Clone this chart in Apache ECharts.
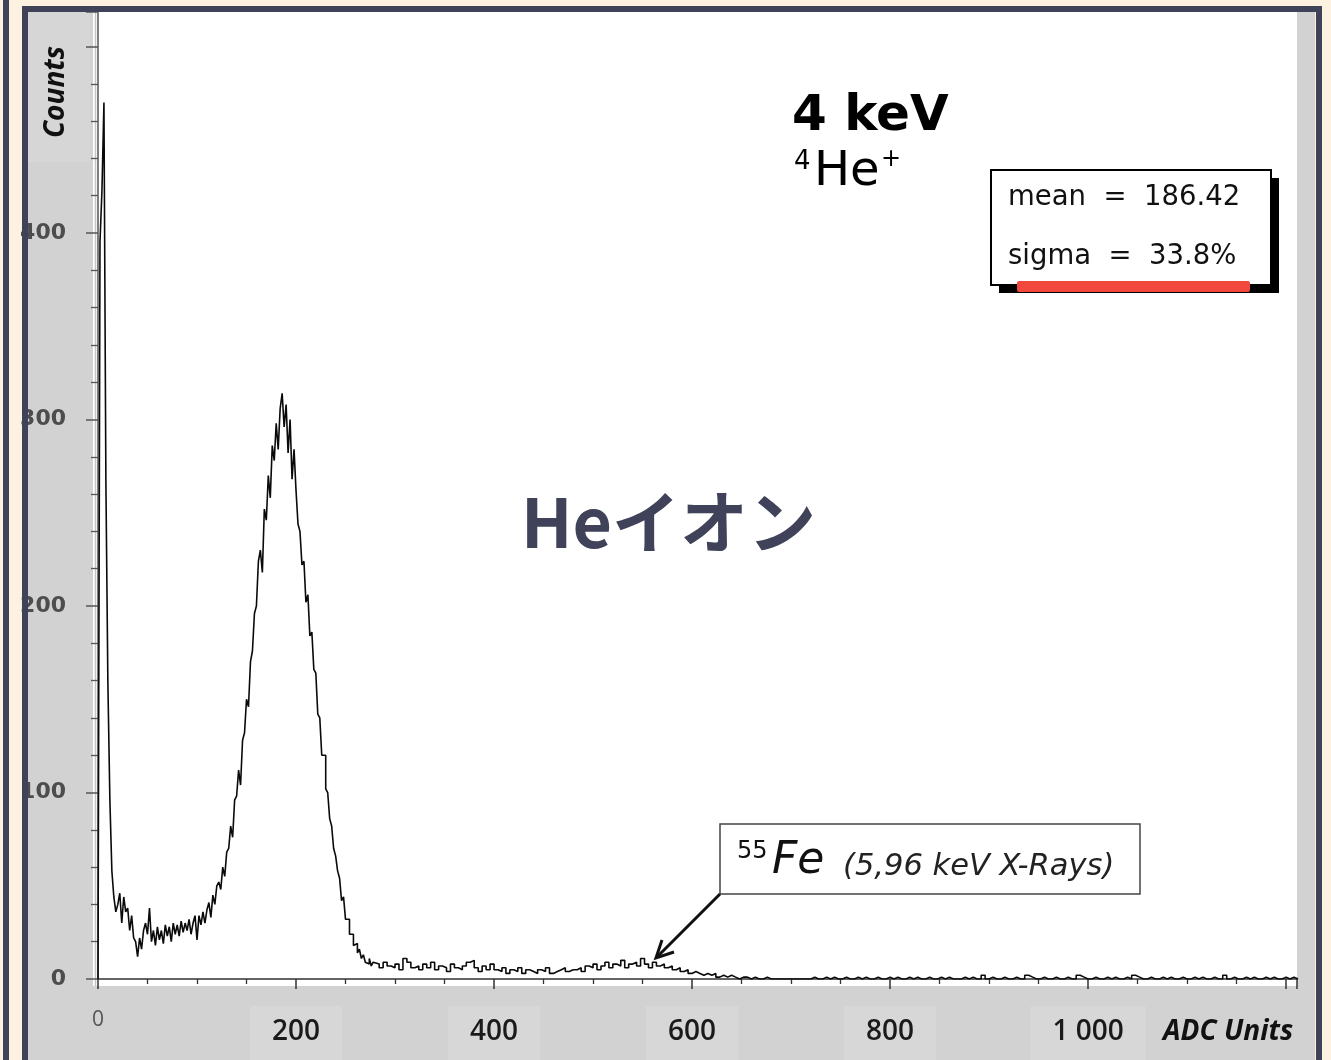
<!DOCTYPE html>
<html>
<head>
<meta charset="utf-8">
<script src="https://cdn.jsdelivr.net/npm/echarts@6/dist/echarts.min.js"></script>
<style>
  html, body { margin: 0; padding: 0; background: #fdf2e2; }
  #chart { width: 1331px; height: 1060px; }
</style>
</head>
<body>
<div id="chart"></div>
<script>
// ADC spectrum, 2-unit bins from ADC 0 to 280
const fineStart = 0;
const fineWidth = 2;
const fineCounts = [
  0, 395, 423, 470, 265, 158, 96, 58, 44, 36,
  40, 46, 30, 44, 36, 38, 26, 34, 22, 20,
  12, 22, 16, 26, 30, 24, 38, 20, 26, 18,
  28, 21, 26, 19, 29, 23, 28, 20, 30, 24,
  29, 23, 31, 25, 30, 26, 32, 24, 30, 34,
  21, 34, 29, 36, 30, 37, 41, 33, 45, 40,
  50, 52, 48, 60, 55, 68, 70, 82, 76, 96,
  98, 112, 104, 128, 132, 150, 146, 170, 176, 196,
  200, 224, 230, 218, 252, 246, 270, 258, 286, 278,
  298, 284, 306, 314, 296, 308, 282, 300, 268, 284,
  262, 244, 240, 222, 224, 202, 206, 184, 186, 166,
  164, 142, 140, 120, 120, 102, 100, 86, 82, 70,
  66, 58, 54, 42, 44, 32, 32, 24, 24, 18,
  19, 14, 16, 11, 13, 9, 8, 11, 7, 9
];

// Tail of the spectrum, 4-unit bins from ADC 280 to 1212
const coarseStart = 280;
const coarseWidth = 4;
const coarseCounts = [
  8, 6, 9, 7, 6, 8, 5, 11, 9, 6, 7, 5, 8, 6, 9, 5, 7, 6, 4, 8, 6, 5, 7, 9, 10, 6, 4, 7, 5, 8,
  5, 4, 6, 3, 5, 4, 6, 3, 5, 4, 3, 5, 4, 6, 3, 4, 5, 6, 4, 5,
  5, 6, 4, 7, 6, 8, 5, 7, 9, 6, 8, 7, 10, 6, 8, 9, 7, 11, 8, 6, 9, 7, 8, 6, 7, 5, 6, 4, 5, 3,
  4, 3, 2, 3, 2, 3, 1, 2, 1, 2, 1, 0, 1, 1, 0,
  1, 0, 0, 1, 0, 0, 0, 0, 0, 0, 0, 0, 0, 0, 0,
  1, 0, 0, 1, 0, 1, 0, 0, 1, 0, 0, 1, 0, 1, 0, 0, 1, 0, 0, 1,
  0, 1, 0, 0, 1, 0, 1, 0, 0, 1, 0, 0, 1, 0, 1, 0, 0, 0, 1, 0,
  1, 0, 0, 2, 0, 1, 0, 0, 1, 0, 0, 1, 0, 0, 2, 1, 0, 0, 1, 0,
  0, 1, 0, 0, 1, 0, 0, 2, 1, 0, 0, 1, 0, 0, 1, 0, 1, 0, 0, 1,
  0, 2, 1, 0, 0, 1, 0, 0, 1, 0, 1, 0, 0, 1, 0, 0, 1, 0, 1, 0,
  0, 1, 0, 0, 2, 0, 1, 0, 0, 1, 0, 1, 0, 0, 1, 0, 1, 0, 0, 1, 0, 1, 0
];

// Axis settings
const xMax = 1211;
const xStep = 200;
const yMax = 518.5;
const yStep = 100;
const xLabelValues = [0, 200, 400, 600, 800, 1000];
const yLabelValues = [0, 100, 200, 300, 400];

// Annotation texts
const energyTitle = '4 keV';
const ionMass = '4';
const ionName = 'He';
const ionCharge = '+';
const statLines = ['mean  =  186.42', 'sigma  =  33.8%'];
const ionLabel = 'Heイオン';
const feMass = '55';
const feName = 'Fe';
const feNote = '(5,96 keV X-Rays)';
const yName = 'Counts';
const xName = 'ADC Units';

// Histogram as step-line points at bin left edges
const points = [];
fineCounts.forEach((c, i) => points.push([fineStart + i * fineWidth, c]));
coarseCounts.forEach((c, i) => points.push([coarseStart + i * coarseWidth, c]));
points.push([coarseStart + coarseCounts.length * coarseWidth, 0]);

function fmtThousands(v) {
  return String(v).replace(/\B(?=(\d{3})+(?!\d))/g, ' ');
}

const chart = echarts.init(document.getElementById('chart'), null, { renderer: 'canvas' });

const NAVY = '#3f4259';

function txt(x, y, text, font, fill, z, align, extra) {
  const a = align || 'left';
  return Object.assign({
    type: 'text', z: z || 50, x: x, y: y,
    style: {
      text: text, font: font, fill: fill,
      align: a, verticalAlign: 'middle', textAlign: a, textVerticalAlign: 'middle'
    }
  }, extra || {});
}

chart.setOption({
  animation: false,
  backgroundColor: '#fdf2e2',
  grid: { left: 98, top: 12, right: 34, bottom: 81, containLabel: false, outerBoundsMode: 'none' },
  xAxis: {
    type: 'value',
    min: 0,
    max: xMax,
    interval: xStep,
    offset: 9,
    axisLine: { show: true, lineStyle: { color: '#333', width: 1.5 } },
    axisTick: { show: true, length: 10, lineStyle: { color: '#333', width: 1.5 } },
    minorTick: { show: true, splitNumber: 4, length: 5, lineStyle: { color: '#333', width: 1.3 } },
    splitLine: { show: false },
    axisLabel: {
      margin: 18,
      showMaxLabel: false,
      formatter: function (v) {
        if (xLabelValues.indexOf(v) < 0) return '';
        if (v === 0) return '{z|0}';
        return '{big|' + fmtThousands(v) + '}';
      },
      rich: {
        z: { fontSize: 21, color: '#555', fontFamily: 'Open Sans', padding: [4, 0, 0, 0] },
        big: {
          fontSize: 28, color: '#1a1a1a', fontWeight: 600, fontFamily: 'Open Sans',
          padding: [12, 22, 20, 22], backgroundColor: '#d7d7d7'
        }
      }
    }
  },
  yAxis: {
    type: 'value',
    min: 0,
    max: yMax,
    interval: yStep,
    offset: 7,
    axisLine: { show: true, lineStyle: { color: '#555', width: 1.5 } },
    axisTick: { show: true, length: 12, lineStyle: { color: '#555', width: 1.5 } },
    minorTick: { show: true, splitNumber: 5, length: 7, lineStyle: { color: '#555', width: 1.3 } },
    splitLine: { show: false },
    axisLabel: {
      margin: 25,
      showMaxLabel: false,
      color: '#4d4d4d',
      fontSize: 22,
      fontWeight: 'bold',
      fontFamily: 'DejaVu Sans',
      formatter: function (v) { return yLabelValues.indexOf(v) >= 0 ? String(v) : ''; }
    }
  },
  series: [{
    type: 'line',
    step: 'end',
    data: points,
    showSymbol: false,
    silent: true,
    lineStyle: { color: '#0a0a0a', width: 1.6 },
    z: 5
  }],
  graphic: [
    // panel backgrounds
    { type: 'rect', z: -20, shape: { x: 28, y: 12, width: 1287, height: 1048 }, style: { fill: '#d2d2d2' } },
    { type: 'rect', z: -20, shape: { x: 28, y: 12, width: 62, height: 150 }, style: { fill: '#d6d6d6' } },
    { type: 'rect', z: -19, shape: { x: 93, y: 12, width: 1204, height: 974 }, style: { fill: '#ffffff' } },
    { type: 'line', z: -18, shape: { x1: 95.5, y1: 12, x2: 95.5, y2: 986 }, style: { stroke: '#c4c4c4', lineWidth: 1.5 } },
    // frames
    { type: 'rect', z: 100, shape: { x: 3, y: 0, width: 6, height: 1060 }, style: { fill: NAVY } },
    { type: 'rect', z: 100, shape: { x: 25, y: 9, width: 1294, height: 1100 }, style: { fill: 'none', stroke: NAVY, lineWidth: 6 } },
    // axis names
    txt(56, 92, yName, 'italic bold 28px "Open Sans"', '#111', 50, 'center', { rotation: Math.PI / 2 }),
    txt(1163, 1032, xName, 'italic bold 28px "Open Sans"', '#111', 50),
    // energy and ion
    txt(792, 117, energyTitle, 'bold 50px "DejaVu Sans"', '#000', 50),
    txt(794, 162, ionMass, '26px "DejaVu Sans"', '#000', 50),
    txt(814, 173, ionName, '48px "DejaVu Sans"', '#000', 50),
    txt(881, 160, ionCharge, '24px "DejaVu Sans"', '#000', 50),
    // statistics box with drop shadow
    { type: 'rect', z: 40, shape: { x: 999, y: 178, width: 280, height: 115 }, style: { fill: '#000' } },
    { type: 'rect', z: 41, shape: { x: 991, y: 170, width: 280, height: 115 }, style: { fill: '#fff', stroke: '#000', lineWidth: 2 } },
    txt(1008, 198, statLines[0], '27.5px "DejaVu Sans"', '#111', 42),
    txt(1008, 257, statLines[1], '27.5px "DejaVu Sans"', '#111', 42),
    { type: 'rect', z: 43, shape: { x: 1017, y: 281, width: 233, height: 11, r: 2 }, style: { fill: '#f2473d' } },
    // ion label
    txt(521, 522, ionLabel, 'bold 68px "Noto Sans CJK JP"', NAVY, 50),
    // Fe-55 label box and arrow
    { type: 'rect', z: 40, shape: { x: 720, y: 824, width: 420, height: 70 }, style: { fill: '#fff', stroke: '#444', lineWidth: 1.5 } },
    txt(737, 852, feMass, '24px "DejaVu Sans"', '#111', 42),
    txt(772, 862, feName, 'italic 44px "DejaVu Sans"', '#111', 42),
    txt(843, 867, feNote, 'italic 30.5px "DejaVu Sans"', '#222', 42),
    { type: 'line', z: 42, shape: { x1: 720, y1: 894, x2: 657, y2: 957 }, style: { stroke: '#111', lineWidth: 3 } },
    { type: 'polyline', z: 42, shape: { points: [[674, 952], [656, 958], [662, 940]] }, style: { stroke: '#111', lineWidth: 3, fill: 'none' } }
  ]
});
</script>
</body>
</html>
